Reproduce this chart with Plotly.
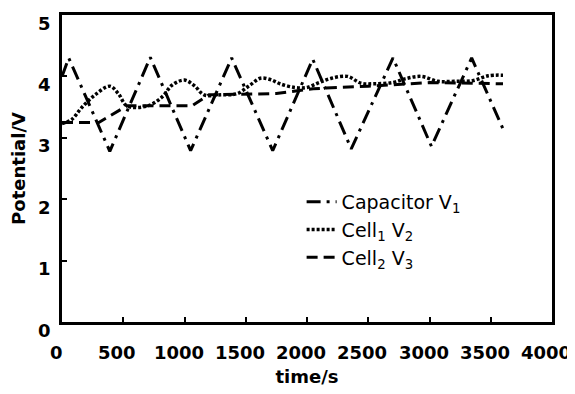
import plotly.graph_objects as go

# Capacitor V1 (triangle wave)
t_cap = [0, 55, 390, 721, 1050, 1385, 1720, 2047, 2361, 2702, 3016, 3344, 3610]
v_cap = [4.0, 4.3, 2.78, 4.31, 2.79, 4.3, 2.79, 4.28, 2.82, 4.3, 2.86, 4.3, 3.1]

# Cell1 V2 (dotted)
t_c1 = [0, 80, 160, 270, 390, 460, 530, 700, 820, 900, 1000, 1080, 1160, 1300,
        1430, 1530, 1620, 1700, 1780, 1900, 2000, 2100, 2200, 2330, 2440, 2550,
        2700, 2800, 2930, 3070, 3200, 3350, 3480, 3600]
v_c1 = [3.23, 3.3, 3.49, 3.7, 3.84, 3.72, 3.52, 3.52, 3.67, 3.86, 3.94, 3.85,
        3.7, 3.7, 3.72, 3.85, 3.97, 3.95, 3.88, 3.82, 3.82, 3.9, 3.97, 4.0, 3.89,
        3.88, 3.9, 3.96, 4.0, 3.92, 3.92, 3.93, 4.01, 4.02]

# Cell2 V3 (dashed)
t_c2 = [0, 300, 530, 1060, 1200, 1750, 2050, 2500, 3000, 3600]
v_c2 = [3.25, 3.25, 3.52, 3.52, 3.7, 3.72, 3.8, 3.84, 3.9, 3.88]

names = ["Capacitor V<sub>1</sub>", "Cell<sub>1</sub> V<sub>2</sub>", "Cell<sub>2</sub> V<sub>3</sub>"]

x_ticks = [0, 500, 1000, 1500, 2000, 2500, 3000, 3500, 4000]
x_labels = ["0", "500", "1000", "1500", "2000", "2500", "3000", "3500", "4000"]
y_ticks = [0, 1, 2, 3, 4, 5]
y_labels = ["0", "1", "2", "3", "4", "5"]

FONT = "DejaVu Sans"
TICKFONT = dict(size=18, family=FONT, weight="bold", color="black")
TITLEFONT = dict(size=18, family=FONT, weight="bold", color="black")

fig = go.Figure()
fig.add_trace(go.Scatter(x=t_cap, y=v_cap, mode="lines", name=names[0],
                         line=dict(color="black", width=3, dash="14px,6px,3px,6px")))
fig.add_trace(go.Scatter(x=t_c1, y=v_c1, mode="lines", name=names[1], line_shape="spline",
                         line=dict(color="black", width=3.5, dash="3px,2px")))
fig.add_trace(go.Scatter(x=t_c2, y=v_c2, mode="lines", name=names[2],
                         line=dict(color="black", width=3, dash="11px,6px")))

# tick labels (offset like the original)
for v, lab in zip(x_ticks, x_labels):
    fig.add_annotation(x=v, y=0, xref="x", yref="paper", text=lab, showarrow=False,
                       xanchor="center", yanchor="middle", xshift=-6, yshift=-30,
                       font=TICKFONT)
for v, lab in zip(y_ticks, y_labels):
    fig.add_annotation(x=0, y=v, xref="paper", yref="y", text=lab, showarrow=False,
                       xanchor="right", yanchor="middle", xshift=-9, yshift=-8,
                       font=TICKFONT)

fig.update_layout(
    width=575, height=394,
    margin=dict(l=54, r=31, t=7, b=80, autoexpand=False),
    paper_bgcolor="white", plot_bgcolor="white",
    font=dict(family=FONT, size=18, color="black"),
    showlegend=True,
    legend=dict(x=0.489, y=0.453, xanchor="left", yanchor="top",
                bgcolor="rgba(0,0,0,0)", font=dict(size=19, family=FONT),
                tracegroupgap=0),
    xaxis=dict(range=[0, 4000], tickvals=x_ticks, ticks="inside", ticklen=5,
               tickwidth=2, tickcolor="black", showline=True, linecolor="black",
               linewidth=2.5, mirror=True, showgrid=False, zeroline=False,
               automargin=False, showticklabels=False,
               title=dict(text="time/s", font=TITLEFONT, standoff=47)),
    yaxis=dict(range=[0, 5], tickvals=y_ticks, ticks="inside", ticklen=5,
               tickwidth=2, tickcolor="black", showline=True, linecolor="black",
               linewidth=2.5, mirror=True, showgrid=False, zeroline=False,
               automargin=False, showticklabels=False,
               title=dict(text="Potential/V", font=TITLEFONT, standoff=29)),
)

fig.write_html("out.html")
